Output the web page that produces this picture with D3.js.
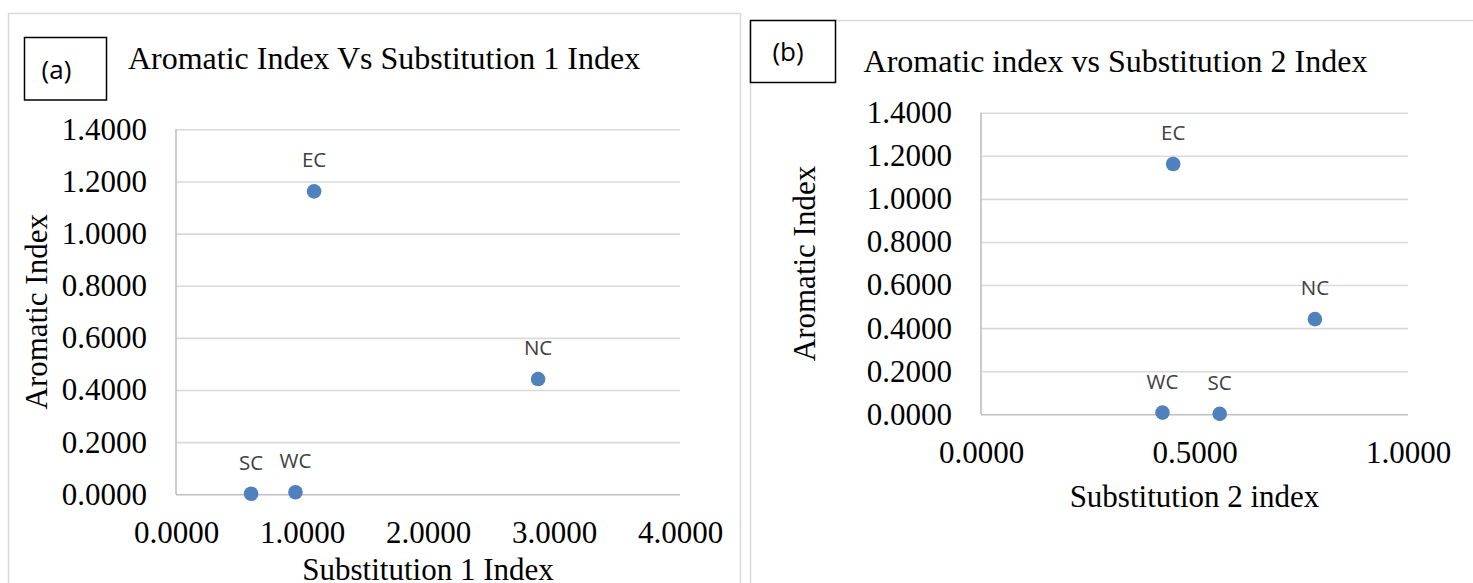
<!DOCTYPE html>
<html>
<head>
<meta charset="utf-8">
<script src="https://cdn.jsdelivr.net/npm/d3@7"></script>
<style>
  html, body { margin: 0; padding: 0; background: #fff; }
  svg { display: block; }
</style>
</head>
<body>
<svg id="chart" width="1473" height="583"></svg>
<script>
// Sampling sites and their indices
const sites = ["EC", "NC", "SC", "WC"];
const aromaticIndex = [1.162, 0.442, 0.002, 0.008];
const substitution1Index = [1.096, 2.874, 0.596, 0.948];
const substitution2Index = [0.450, 0.782, 0.559, 0.425];

// Axis ticks
const yTicks = [0, 0.2, 0.4, 0.6, 0.8, 1.0, 1.2, 1.4];
const xTicksA = [0, 1, 2, 3, 4];
const xTicksB = [0, 0.5, 1.0];

const SERIF = "'Liberation Serif', 'Times New Roman', serif";
const SANS = "'Open Sans', 'Liberation Sans', sans-serif";
const FS = 31;
const fmt = d3.format(".4f");

const svg = d3.select("#chart");
svg.append("rect").attr("width", 1473).attr("height", 583).attr("fill", "#fff");

// Panel frames
svg.append("path")
  .attr("d", "M8.5,600 V13.5 H740.5 V600")
  .attr("fill", "none").attr("stroke", "#d9d9d9").attr("stroke-width", 1.5);
svg.append("path")
  .attr("d", "M750.5,600 V20.5 H1490")
  .attr("fill", "none").attr("stroke", "#d9d9d9").attr("stroke-width", 1.5);

function drawPanel(cfg) {
  const g = svg.append("g");
  const x = d3.scaleLinear().domain(cfg.xDomain).range([cfg.left, cfg.right]);
  const y = d3.scaleLinear().domain([0, 1.4]).range([cfg.bottom, cfg.top]);

  // Horizontal gridlines + y labels
  const yAxis = g.append("g")
    .attr("transform", `translate(${cfg.left},0)`)
    .call(d3.axisLeft(y).tickValues(yTicks).tickFormat(fmt)
      .tickSize(-(cfg.right - cfg.left)).tickPadding(29));
  yAxis.select(".domain").remove();
  yAxis.selectAll("line")
    .attr("stroke", d => d === 0 ? "#bfbfbf" : "#d9d9d9")
    .attr("stroke-width", 1.6);
  yAxis.selectAll("text")
    .attr("font-family", SERIF).attr("font-size", FS).attr("fill", "#000");

  // Vertical axis line
  g.append("line")
    .attr("x1", cfg.left).attr("x2", cfg.left)
    .attr("y1", y(1.4)).attr("y2", y(0))
    .attr("stroke", "#bfbfbf").attr("stroke-width", 1.6);

  // x labels
  const xAxis = g.append("g")
    .attr("transform", `translate(0,${cfg.bottom})`)
    .call(d3.axisBottom(x).tickValues(cfg.xTicks).tickFormat(fmt)
      .tickSize(0).tickPadding(27));
  xAxis.select(".domain").remove();
  xAxis.selectAll("text")
    .attr("font-family", SERIF).attr("font-size", FS).attr("fill", "#000");

  // Points
  const pts = sites.map((s, i) => ({ site: s, xv: cfg.xValues[i], yv: aromaticIndex[i] }));
  g.selectAll("circle.pt").data(pts).join("circle")
    .attr("class", "pt")
    .attr("cx", d => x(d.xv)).attr("cy", d => y(d.yv))
    .attr("r", 7.3).attr("fill", "#4f81bd");

  // Data labels
  g.selectAll("text.lbl").data(pts).join("text")
    .attr("class", "lbl")
    .attr("x", d => x(d.xv)).attr("y", d => y(d.yv) - 24)
    .attr("text-anchor", "middle")
    .attr("font-family", SANS).attr("font-size", 20.5).attr("fill", "#404040")
    .text(d => d.site);

  // Chart title
  g.append("text")
    .attr("x", cfg.titleX).attr("y", cfg.titleY)
    .attr("text-anchor", "middle")
    .attr("font-family", SERIF).attr("font-size", 32).attr("fill", "#000")
    .text(cfg.title);

  // Axis titles
  g.append("text")
    .attr("transform", `translate(${cfg.yTitleX},${(cfg.top + cfg.bottom) / 2}) rotate(-90)`)
    .attr("text-anchor", "middle")
    .attr("font-family", SERIF).attr("font-size", FS).attr("fill", "#000")
    .text("Aromatic Index");
  g.append("text")
    .attr("x", (cfg.left + cfg.right) / 2).attr("y", cfg.xTitleY)
    .attr("text-anchor", "middle")
    .attr("font-family", SERIF).attr("font-size", FS).attr("fill", "#000")
    .text(cfg.xTitle);

  // Panel tag box
  g.append("rect")
    .attr("x", cfg.tag.x).attr("y", cfg.tag.y)
    .attr("width", cfg.tag.w).attr("height", cfg.tag.h)
    .attr("fill", "#fff").attr("stroke", "#000").attr("stroke-width", 1.5);
  g.append("text")
    .attr("x", cfg.tag.tx).attr("y", cfg.tag.ty)
    .attr("text-anchor", "middle")
    .attr("font-family", SANS).attr("font-size", 26).attr("fill", "#000")
    .text(cfg.tag.label);
}

drawPanel({
  left: 176, right: 680, top: 129.3, bottom: 494.3,
  xDomain: [0, 4], xTicks: xTicksA, xValues: substitution1Index,
  title: "Aromatic Index Vs Substitution 1 Index", titleX: 384, titleY: 68.5,
  xTitle: "Substitution 1 Index", xTitleY: 580, yTitleX: 47,
  tag: { x: 24.5, y: 37.5, w: 82, h: 62.5, label: "(a)", tx: 56.5, ty: 79 }
});

drawPanel({
  left: 981, right: 1408, top: 112.7, bottom: 414.3,
  xDomain: [0, 1], xTicks: xTicksB, xValues: substitution2Index,
  title: "Aromatic index vs Substitution 2 Index", titleX: 1115.5, titleY: 72,
  xTitle: "Substitution 2 index", xTitleY: 507, yTitleX: 815,
  tag: { x: 750.5, y: 20.5, w: 85, h: 62, label: "(b)", tx: 788, ty: 61 }
});
</script>
</body>
</html>
